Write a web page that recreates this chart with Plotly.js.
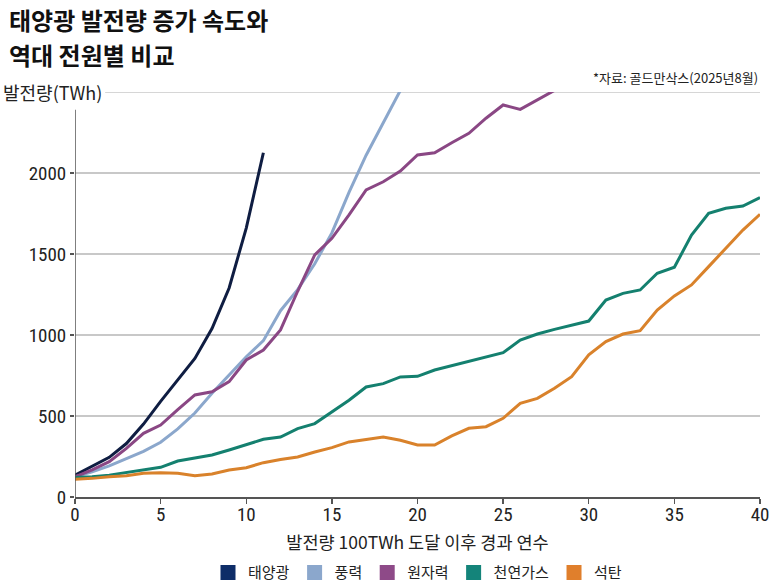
<!DOCTYPE html>
<html>
<head>
<meta charset="utf-8">
<script src="https://cdn.plot.ly/plotly-3.0.1.min.js"></script>
<style>
  html, body { margin: 0; padding: 0; background: #fff; }
  #chart { width: 773px; height: 585px; }
</style>
</head>
<body>
<div id="chart"></div>
<script>
//Years since each source reached 100 TWh of generation
var years = [];
for (var i = 0; i <= 40; i++) { years.push(i); }

//Generation (TWh), one value per year
var solar = [135, 190, 245, 330, 450, 590, 720, 855, 1040, 1290, 1660, 2125];
var wind = [125, 155, 192, 235, 282, 338, 420, 518, 640, 753, 866, 965, 1150, 1280, 1440,
  1630, 1880, 2110, 2310, 2510];
var nuclear = [125, 167, 218, 300, 393, 444, 540, 630, 650, 712, 846, 907, 1031, 1270, 1494,
  1597, 1741, 1895, 1946, 2012, 2111, 2125, 2187, 2245, 2338, 2420, 2393, 2450, 2510];
var gas = [120, 125, 135, 150, 167, 183, 222, 239, 259, 290, 321, 356, 370, 422, 453, 525,
  597, 679, 700, 741, 745, 784, 811, 835, 866, 891, 969, 1006, 1035, 1062, 1086, 1216,
  1257, 1278, 1381, 1418, 1617, 1751, 1782, 1796, 1848];
var coal = [110, 115, 125, 131, 146, 150, 146, 131, 142, 167, 181, 212, 232, 247, 278, 305,
  340, 356, 370, 350, 321, 321, 377, 424, 434, 486, 578, 609, 671, 743, 877, 959, 1006,
  1027, 1154, 1241, 1309, 1422, 1535, 1648, 1745];

var names = ['태양광', '풍력', '원자력', '천연가스', '석탄'];
var lineColors = ['#0f1d42', '#8ba7cc', '#8a4784', '#14806f', '#d9822b'];
var legendColors = ['#0e2d68', '#8ba7cc', '#8e4a88', '#14847a', '#e07f2c'];
var series = [solar, wind, nuclear, gas, coal];

var yTop = 2500;
var yTicks = [0, 500, 1000, 1500, 2000];
var xTicks = [0, 5, 10, 15, 20, 25, 30, 35, 40];

var numFont = '"Liberation Sans Narrow", "Roboto Condensed", "Liberation Sans", sans-serif';
var krFont = '"Noto Sans CJK KR", "Noto Sans", sans-serif';

var data = [];
//Plot the lines themselves (hidden from the legend)
for (var s = 0; s < series.length; s++) {
  data.push({
    x: years.slice(0, series[s].length), y: series[s],
    mode: 'lines', type: 'scatter', name: names[s],
    line: {color: lineColors[s], width: 3},
    showlegend: false, hoverinfo: 'x+y+name'
  });
}
//Legend entries drawn as squares
for (var s = 0; s < series.length; s++) {
  data.push({
    x: [null], y: [null], mode: 'markers', type: 'scatter', name: names[s],
    marker: {color: legendColors[s], size: 15, symbol: 'square'},
    showlegend: true
  });
}

var layout = {
  width: 773, height: 585,
  margin: {l: 75, r: 13, t: 92, b: 88},
  paper_bgcolor: '#ffffff', plot_bgcolor: '#ffffff',
  showlegend: true,
  legend: {
    orientation: 'h', xref: 'paper', x: 0.5, xanchor: 'center',
    yref: 'container', y: 0.021, yanchor: 'middle',
    font: {family: krFont, size: 15, color: '#222'},
    itemwidth: 30, tracegroupgap: 0
  },
  xaxis: {
    range: [0, 40], tickvals: xTicks, ticks: 'outside', ticklen: 5, tickwidth: 1.3,
    tickcolor: '#555', showline: true, linecolor: '#555', linewidth: 1.5,
    showgrid: false, zeroline: false, automargin: false, ticklabelstandoff: -5,
    tickfont: {family: numFont, size: 19, color: '#222'},
    title: {text: '발전량 100TWh 도달 이후 경과 연수', standoff: 11,
      font: {family: krFont, size: 17.5, color: '#222'}}
  },
  yaxis: {
    range: [0, yTop], tickvals: yTicks,
    ticks: 'outside', ticklen: 4, tickwidth: 1.3, tickcolor: '#555',
    showline: false, showgrid: true, gridcolor: '#c8c8c8', gridwidth: 1.5,
    zeroline: false, automargin: false,
    tickfont: {family: numFont, size: 19, color: '#222'}
  },
  shapes: [
    //the y axis line stops a bit below the top gridline
    {type: 'line', xref: 'x', yref: 'y', x0: 0, x1: 0, y0: 0, y1: 2390,
      line: {color: '#555', width: 1.5}, layer: 'above'},
    //top gridline starts after the unit label
    {type: 'line', xref: 'paper', yref: 'y', x0: 0.044, x1: 1, y0: yTop, y1: yTop,
      line: {color: '#c8c8c8', width: 1.5}, layer: 'below'}
  ],
  annotations: [
    {xref: 'paper', yref: 'paper', x: -0.1, y: 1 + 73 / 405, xanchor: 'left', yanchor: 'middle',
      align: 'left', showarrow: false, text: '<b>태양광 발전량 증가 속도와</b>',
      font: {family: krFont, size: 24, color: '#111'}},
    {xref: 'paper', yref: 'paper', x: -0.1, y: 1 + 37.5 / 405, xanchor: 'left', yanchor: 'middle',
      align: 'left', showarrow: false, text: '<b>역대 전원별 비교</b>',
      font: {family: krFont, size: 24, color: '#111'}},
    {xref: 'paper', yref: 'paper', x: 1, y: 1.037, xanchor: 'right', yanchor: 'middle',
      showarrow: false, text: '*자료: 골드만삭스(2025년8월)',
      font: {family: krFont, size: 13, color: '#222'}},
    {xref: 'paper', yref: 'paper', x: -0.108, y: 1, xanchor: 'left', yanchor: 'middle',
      showarrow: false, text: '발전량(TWh)',
      font: {family: krFont, size: 18, color: '#222'}}
  ]
};

Plotly.newPlot('chart', data, layout, {displayModeBar: false, staticPlot: true});
</script>
</body>
</html>
